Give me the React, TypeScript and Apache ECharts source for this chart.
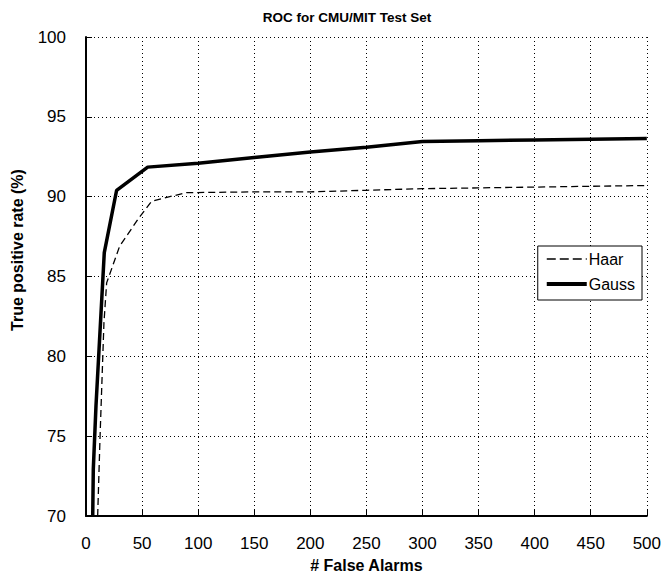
import React, { useEffect, useRef } from "react";
import * as echarts from "echarts";

const titleText = "ROC for CMU/MIT Test Set";
const xName = "# False Alarms";
const yName = "True positive rate (%)";

const haarX = [10.4, 12.5, 16, 18.4, 30, 46.5, 58.4, 68.8, 89.5, 150, 200, 250, 300, 350, 400, 450, 500];
const haarY = [70, 74.9, 82.1, 84.6, 86.9, 88.6, 89.7, 89.9, 90.25, 90.3, 90.3, 90.4, 90.5, 90.55, 90.6, 90.65, 90.7];

const gaussX = [6, 6.5, 8.9, 16.3, 27.3, 55, 100, 150, 200, 250, 300, 350, 400, 450, 500];
const gaussY = [70, 72.9, 76.9, 86.5, 90.4, 91.85, 92.1, 92.45, 92.8, 93.1, 93.45, 93.5, 93.55, 93.6, 93.65];

const FONT = "'Liberation Sans', Arial, sans-serif";

export default function App() {
  const ref = useRef<HTMLDivElement>(null);
  useEffect(() => {
    if (!ref.current) return;
    const chart = echarts.init(ref.current, null, { renderer: "svg" });
    chart.setOption({
      animation: false,
      backgroundColor: "#fff",
      title: {
        text: titleText,
        left: 342,
        textAlign: "center",
        top: 5,
        textStyle: { fontFamily: FONT, fontSize: 13.5, fontWeight: "bold", color: "#000" },
      },
      legend: {
        right: 22,
        top: 246,
        orient: "vertical",
        backgroundColor: "#fff",
        borderColor: "#000",
        borderWidth: 1,
        borderRadius: 0,
        padding: [5, 7, 8, 7],
        itemWidth: 40,
        itemHeight: 14,
        itemGap: 9,
        itemStyle: { opacity: 0 },
        textStyle: { fontFamily: FONT, fontSize: 16, color: "#000", padding: [0, 0, 0, -3] },
        data: [
          { name: "Haar", lineStyle: { width: 1.5, type: [9, 4], color: "#000" } },
          { name: "Gauss", lineStyle: { width: 4, type: "solid", color: "#000" } },
        ],
      },
      graphic: [
        {
          type: "text",
          x: 17,
          y: 250,
          rotation: Math.PI / 2,
          style: {
            text: yName,
            fill: "#000",
            font: "bold 16px 'Liberation Sans', Arial, sans-serif",
            textAlign: "center",
            textVerticalAlign: "middle",
          },
        },
      ],
      grid: { left: 86, right: 16, top: 37, bottom: 60, containLabel: false },
      xAxis: {
        type: "value",
        min: 0,
        max: 500,
        interval: 50,
        name: xName,
        nameLocation: "middle",
        nameGap: 41,
        nameTextStyle: { fontFamily: FONT, fontSize: 16, fontWeight: "bold", color: "#000" },
        axisLine: { onZero: false, lineStyle: { color: "#000", width: 2 } },
        axisTick: { inside: true, length: 6, lineStyle: { color: "#000", width: 1 } },
        axisLabel: { fontFamily: FONT, fontSize: 17, color: "#000", margin: 19 },
        splitLine: { show: true, lineStyle: { color: "#000", type: [1, 3], width: 1 } },
      },
      yAxis: {
        type: "value",
        min: 70,
        max: 100,
        interval: 5,
        axisLine: { onZero: false, lineStyle: { color: "#000", width: 2 } },
        axisTick: { inside: true, length: 6, lineStyle: { color: "#000", width: 1 } },
        axisLabel: { fontFamily: FONT, fontSize: 17, color: "#000", margin: 20 },
        splitLine: { show: true, lineStyle: { color: "#000", type: [1, 3], width: 1 } },
      },
      series: [
        {
          name: "Haar",
          type: "line",
          showSymbol: false,
          symbol: "none",
          data: haarX.map((x, i) => [x, haarY[i]]),
          lineStyle: { color: "#000", width: 1.3, type: [7, 4] },
          itemStyle: { color: "#000" },
        },
        {
          name: "Gauss",
          type: "line",
          showSymbol: false,
          symbol: "none",
          data: gaussX.map((x, i) => [x, gaussY[i]]),
          lineStyle: { color: "#000", width: 3.5 },
          itemStyle: { color: "#000" },
        },
      ],
    });
    return () => chart.dispose();
  }, []);
  return <div ref={ref} style={{ width: 664, height: 578, position: "absolute", left: 0, top: 0 }} />;
}
